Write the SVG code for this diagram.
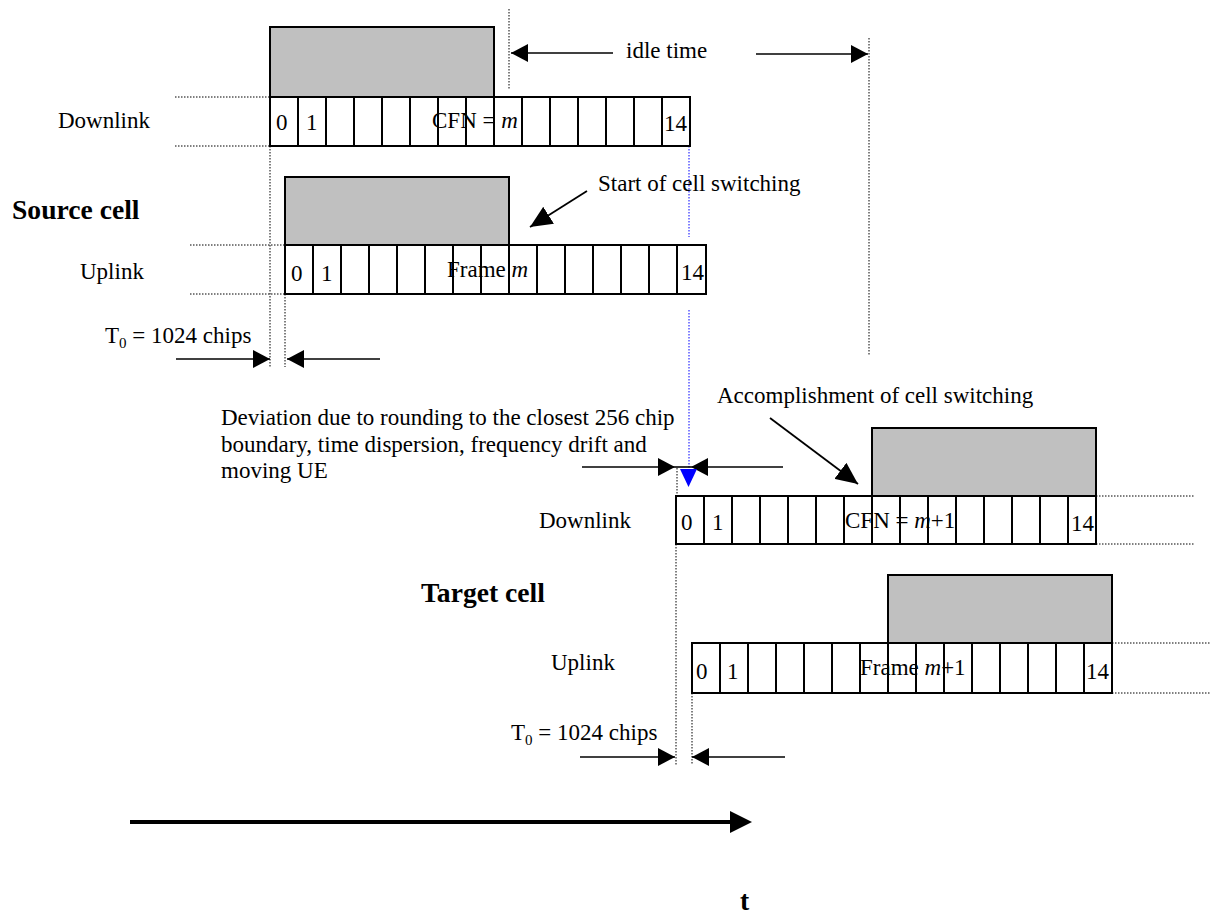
<svg xmlns="http://www.w3.org/2000/svg" width="1211" height="921" viewBox="0 0 1211 921">
<style>
text{font-family:"Liberation Serif","Times New Roman",serif;font-size:23px;fill:#000}
.b{font-weight:bold;font-size:27.6px}
.i{font-style:italic}
.sub{font-size:15px}
.row{fill:#fff;stroke:#000;stroke-width:2}
.div{stroke:#000;stroke-width:2;fill:none}
.gray{fill:#C0C0C0;stroke:#000;stroke-width:2}
.dot{stroke:#000;stroke-width:1;stroke-dasharray:1.5 1.5;fill:none}
.bdot{stroke:#0000FF;stroke-width:1;stroke-dasharray:1.5 1.5;fill:none}
.arr{stroke:#000;stroke-width:1.6;fill:none;marker-end:url(#ah)}
.arrb{stroke:#000;stroke-width:1.8;fill:none;marker-end:url(#ahb)}
</style>
<defs>
<marker id="ah" markerUnits="userSpaceOnUse" markerWidth="17" markerHeight="18" refX="17" refY="9" orient="auto"><path d="M0,0 L17,9 L0,18 z" fill="#000"/></marker>
<marker id="ahb" markerUnits="userSpaceOnUse" markerWidth="22" markerHeight="20" refX="22" refY="10" orient="auto"><path d="M0,0 L22,10 L0,20 z" fill="#000"/></marker>
<marker id="aht" markerUnits="userSpaceOnUse" markerWidth="22" markerHeight="22" refX="22" refY="11" orient="auto"><path d="M0,0 L22,11 L0,22 z" fill="#000"/></marker>
</defs>

<g id="guides">
<path class="dot" d="M175,97 H270 M175,146 H270 M190,245 H285 M190,294 H285 M1096,496 H1195 M1096,544 H1195 M1112,643 H1211 M1112,693 H1211"/>
<path class="dot" d="M509,9 V90 M869,38 V355 M270,146 V367 M285,294 V367 M677,468 V496 M676,544 V765 M692,693 V765"/>
<path class="bdot" d="M689,146 V237 M689,310 V469"/>
</g>

<g id="source-downlink">
<rect class="gray" x="270" y="27" width="224" height="70"/>
<rect class="row" x="270" y="97" width="420" height="49"/>
<path class="div" d="M298,97V146M326,97V146M354,97V146M382,97V146M410,97V146M438,97V146M466,97V146M494,97V146M522,97V146M550,97V146M578,97V146M606,97V146M634,97V146M662,97V146"/>
<text x="276" y="130">0</text><text x="306" y="130">1</text>
<text x="432" y="128">CFN = <tspan class="i">m</tspan></text>
<text x="664" y="131">14</text>
</g>

<g id="source-uplink">
<rect class="gray" x="285" y="177" width="224" height="68"/>
<rect class="row" x="285" y="245" width="421" height="49"/>
<path class="div" d="M313,245V294M341,245V294M369,245V294M397,245V294M425,245V294M453,245V294M481,245V294M509,245V294M537,245V294M565,245V294M593,245V294M621,245V294M649,245V294M677,245V294"/>
<text x="291" y="281">0</text><text x="321" y="281">1</text>
<text x="447" y="277">Frame <tspan class="i">m</tspan></text>
<text x="681" y="280">14</text>
</g>

<g id="target-downlink">
<rect class="gray" x="872" y="428" width="224" height="68"/>
<rect class="row" x="676" y="496" width="420" height="48"/>
<path class="div" d="M704,496V544M732,496V544M760,496V544M788,496V544M816,496V544M844,496V544M872,496V544M900,496V544M928,496V544M956,496V544M984,496V544M1012,496V544M1040,496V544M1068,496V544"/>
<text x="681" y="530">0</text><text x="712" y="530">1</text>
<text x="845" y="528">CFN = <tspan class="i">m</tspan>+1</text>
<text x="1071" y="531">14</text>
</g>

<g id="target-uplink">
<rect class="gray" x="888" y="575" width="224" height="68"/>
<rect class="row" x="692" y="643" width="420" height="50"/>
<path class="div" d="M720,643V693M748,643V693M776,643V693M804,643V693M832,643V693M860,643V693M888,643V693M916,643V693M944,643V693M972,643V693M1000,643V693M1028,643V693M1056,643V693M1084,643V693"/>
<text x="696" y="679">0</text><text x="727" y="679">1</text>
<text x="860" y="675">Frame <tspan class="i">m</tspan>+1</text>
<text x="1086" y="679">14</text>
</g>

<g id="labels">
<text x="58" y="128">Downlink</text>
<text class="b" x="12" y="219">Source cell</text>
<text x="80" y="279">Uplink</text>
<text x="105" y="343">T<tspan class="sub" dy="5">0</tspan><tspan dy="-5"> = 1024 chips</tspan></text>
<text x="626" y="58">idle time</text>
<text x="598" y="191">Start of cell switching</text>
<text x="221" y="425">Deviation due to rounding to the closest 256 chip</text>
<text x="221" y="452">boundary, time dispersion, frequency drift and</text>
<text x="221" y="478">moving UE</text>
<text x="717" y="403">Accomplishment of cell switching</text>
<text x="539" y="528">Downlink</text>
<text class="b" x="421" y="602">Target cell</text>
<text x="551" y="670">Uplink</text>
<text x="511" y="740">T<tspan class="sub" dy="5">0</tspan><tspan dy="-5"> = 1024 chips</tspan></text>
<text class="b" x="740" y="910">t</text>
</g>

<g id="connectors">
<line class="arr" x1="613" y1="53" x2="511" y2="53"/>
<line class="arr" x1="756" y1="54" x2="868" y2="54"/>
<line class="arr" x1="176" y1="359" x2="270" y2="359"/>
<line class="arr" x1="380" y1="359" x2="287" y2="359"/>
<line class="arrb" x1="587" y1="191" x2="530" y2="227"/>
<line class="arr" x1="582" y1="467" x2="675" y2="467"/>
<line class="arr" x1="783" y1="467" x2="691" y2="467"/>
<line stroke="#000" stroke-width="1.6" x1="675" y1="467" x2="691" y2="467"/>
<polygon points="680,469 697,469 688.5,487" fill="#0000FF"/>
<line class="arrb" x1="770" y1="418" x2="858" y2="484"/>
<line class="arr" x1="580" y1="757" x2="675" y2="757"/>
<line class="arr" x1="785" y1="757" x2="692" y2="757"/>
<line stroke="#000" stroke-width="4" x1="130" y1="822" x2="735" y2="822"/>
<path d="M730,811 L752,822 L730,833 z" fill="#000"/>
</g>
</svg>
